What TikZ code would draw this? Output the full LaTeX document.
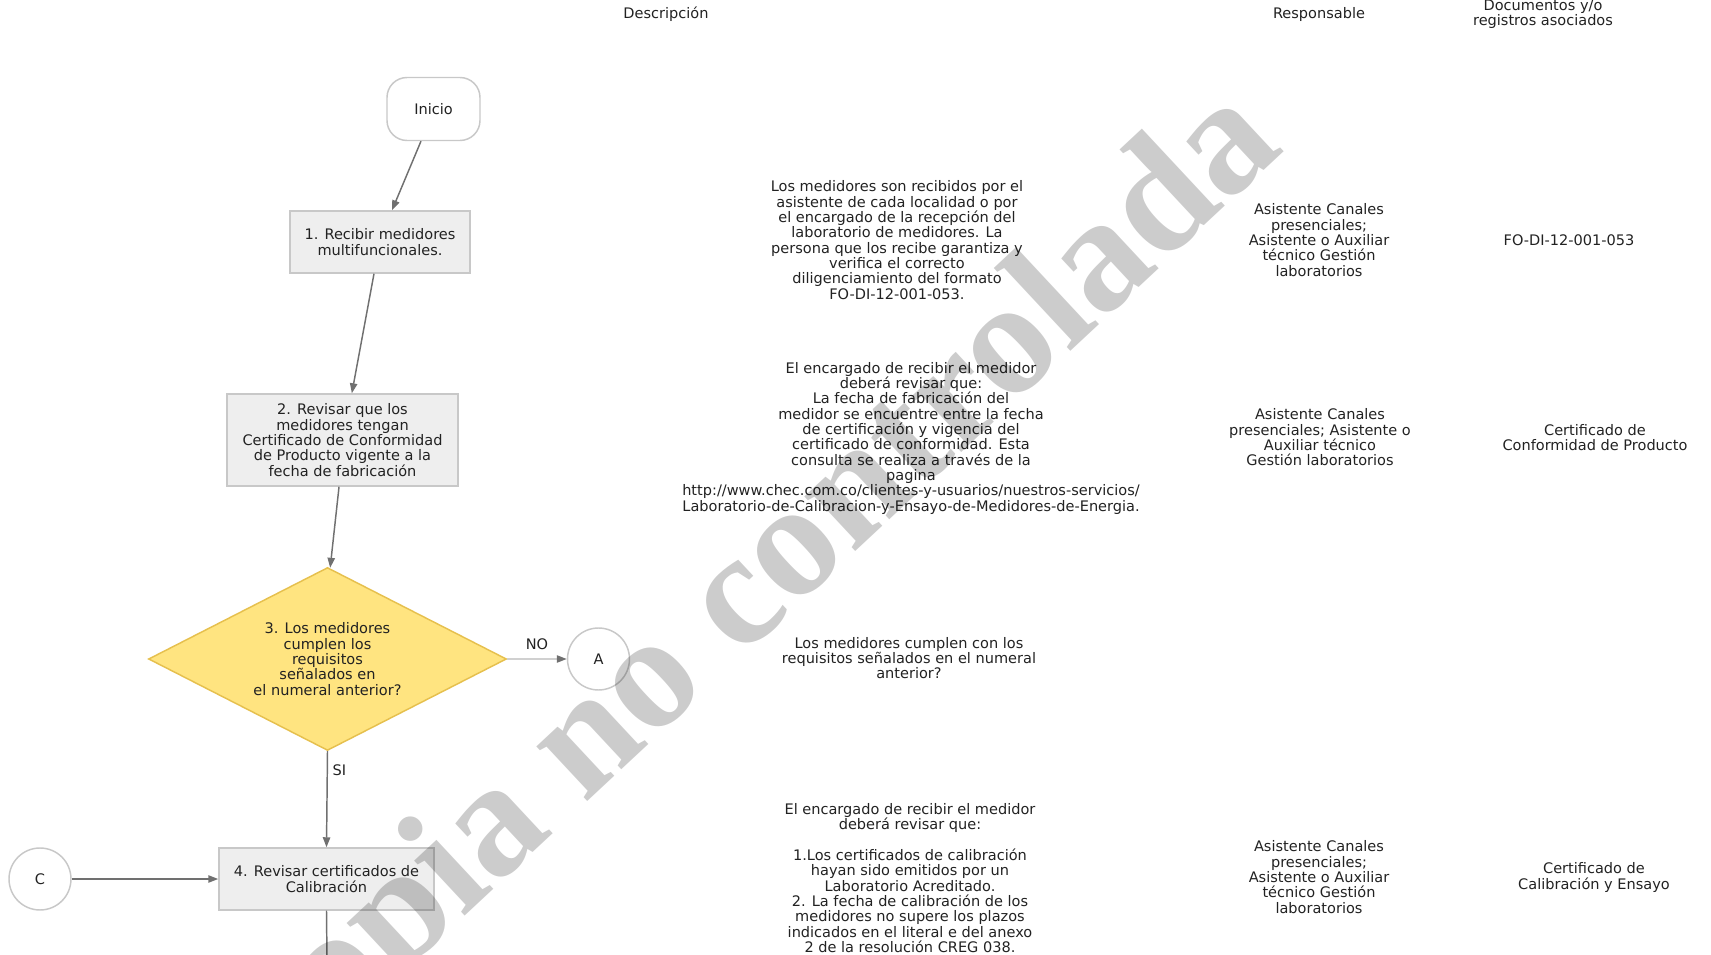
\documentclass[tikz,border=0pt]{standalone}
\usepackage{fontspec}
\setmainfont{DejaVu Sans}
\newfontfamily\wmfont{Liberation Serif}
\usetikzlibrary{shapes.geometric,arrows.meta}
\definecolor{boxfill}{HTML}{EEEEEE}
\definecolor{boxline}{HTML}{C8C8C8}
\definecolor{arrowc}{HTML}{707070}
\definecolor{txt}{HTML}{222222}
\definecolor{dfill}{HTML}{FFE480}
\definecolor{dline}{HTML}{E6C04E}
\definecolor{noline}{HTML}{D0D0D0}
\begin{document}
\begin{tikzpicture}[x=0.75pt,y=-0.75pt,
  every node/.style={font=\fontsize{10.9pt}{11.5pt}\selectfont, text=txt},
  procbox/.style={draw=boxline, fill=boxfill, line width=1.1pt, align=center, inner sep=0pt},
  startbox/.style={draw=boxline, fill=white, line width=1.1pt, rounded corners=15pt, inner sep=0pt},
  decision/.style={diamond, draw=dline, fill=dfill, line width=1.1pt, align=center, inner sep=0pt, shape aspect=1.96},
  connector/.style={circle, draw=boxline, fill=white, line width=1.1pt, inner sep=0pt, minimum size=46.5pt},
  plain/.style={align=center, inner sep=0pt},
  flow/.style={draw=arrowc, line width=1.1pt, -{Triangle[length=7.5pt,width=5.5pt]}},
  noflow/.style={draw=noline, line width=1.1pt, -{Triangle[length=7.5pt,width=5.5pt,color=arrowc]}},
  lbl/.style={inner sep=0pt, text=txt}
]
\useasboundingbox (0,0) rectangle (1711,955);
\clip (0,0) rectangle (1711,955);

% headers
\node[plain] (hdesc) at (666,14) {Descripción};
\node[plain] (hresp) at (1319,14) {Responsable};
\node[plain] (hdoc) at (1543,14.5) {Documentos y/o\\registros asociados};

% flow
\node[startbox, minimum width=69.75pt, minimum height=47.25pt] (inicio) at (433.5,109) {Inicio};
\node[procbox, minimum width=135pt, minimum height=46.5pt] (b1) at (380,242) {1. Recibir medidores\\multifuncionales.};
\node[procbox, minimum width=173.25pt, minimum height=69pt] (b2) at (342.5,440) {2. Revisar que los\\medidores tengan\\Certificado de Conformidad\\de Producto vigente a la\\fecha de fabricación};
\node[decision, minimum width=268.5pt, minimum height=137.25pt] (d3) at (327.5,659) {3. Los medidores\\cumplen los\\requisitos\\señalados en\\el numeral anterior?};
\node[connector] (ca) at (598.5,659) {A};
\node[procbox, minimum width=161.25pt, minimum height=46.5pt] (b4) at (326.5,879) {4. Revisar certificados de\\Calibración};
\node[connector] (cc) at (40,879) {C};
\coordinate (bottom) at (327,960);

\draw[flow] ([xshift=-9.4pt]inicio.south) -- ([xshift=9pt]b1.north);
\draw[flow] ([xshift=-4.5pt]b1.south) -- ([xshift=7pt]b2.north);
\draw[flow] ([xshift=-2.6pt]b2.south) -- ([xshift=2pt,yshift=-0.8pt]d3.north);
\draw[noflow] (d3.east) -- node[lbl, above=6.5pt] {NO} (ca.west);
\draw[flow] (d3.south) -- node[lbl, pos=0.2, right=3.4pt] {SI} (b4.north);
\draw[flow] (cc.east) -- (b4.west);
\draw[draw=arrowc, line width=1.1pt] (b4.south) -- (bottom);

% descriptions
\node[plain] (desc1) at (897,240) {Los medidores son recibidos por el\\asistente de cada localidad o por\\el encargado de la recepción del\\laboratorio de medidores. La\\persona que los recibe garantiza y\\verifica el correcto\\diligenciamiento del formato\\FO-DI-12-001-053.};
\node[plain] (desc2) at (911,438) {El encargado de recibir el medidor\\deberá revisar que:\\La fecha de fabricación del\\medidor se encuentre entre la fecha\\de certificación y vigencia del\\certificado de conformidad. Esta\\consulta se realiza a través de la\\pagina\\http://www.chec.com.co/clientes-y-usuarios/nuestros-servicios/\\Laboratorio-de-Calibracion-y-Ensayo-de-Medidores-de-Energia.};
\node[plain] (desc3) at (909,658) {Los medidores cumplen con los\\requisitos señalados en el numeral\\anterior?};
\node[plain] (desc4) at (910,878) {El encargado de recibir el medidor\\deberá revisar que:\\[11.5pt]1.Los certificados de calibración\\hayan sido emitidos por un\\Laboratorio Acreditado.\\2. La fecha de calibración de los\\medidores no supere los plazos\\indicados en el literal e del anexo\\2 de la resolución CREG 038.};

% responsables
\node[plain] (resp1) at (1319,240) {Asistente Canales\\presenciales;\\Asistente o Auxiliar\\técnico Gestión\\laboratorios};
\node[plain] (resp2) at (1320,437.5) {Asistente Canales\\presenciales; Asistente o\\Auxiliar técnico\\Gestión laboratorios};
\node[plain] (resp4) at (1319,877) {Asistente Canales\\presenciales;\\Asistente o Auxiliar\\técnico Gestión\\laboratorios};

% documentos
\node[plain] (doc1) at (1569,240) {FO-DI-12-001-053};
\node[plain] (doc2) at (1595,437.5) {Certificado de\\Conformidad de Producto};
\node[plain] (doc4) at (1594,877.5) {Certificado de\\Calibración y Ensayo};

% watermark
\node[inner sep=0pt, rotate=43, text=black, opacity=0.2, font=\wmfont\bfseries\fontsize{122pt}{144pt}\selectfont] (wm) at (742,604) {Copia no controlada};
\end{tikzpicture}
\end{document}
